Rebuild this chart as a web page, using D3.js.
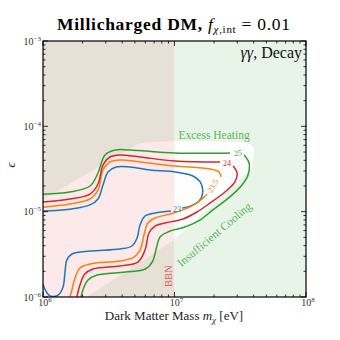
<!DOCTYPE html>
<html><head><meta charset="utf-8">
<script src="https://cdn.jsdelivr.net/npm/d3@7"></script>
<style>body{margin:0;background:#fff}svg{display:block}text{font-family:"Liberation Serif","DejaVu Serif",serif}</style>
</head><body><div id="c"></div>
<script>
// ---- data (mass in eV, epsilon) ----
const xTicks = [1e6, 1e7, 1e8];
const xTickExp = ["6", "7", "8"];
const yTicks = [1e-6, 1e-5, 1e-4, 1e-3];
const yTickExp = ["−6", "−5", "−4", "−3"];
const bbnMass = 1e7;
const allowedBand = [[1e6,1e-6],[2.16e6,1e-6],[9.9e6,4.66e-6],[3.88e7,3.25e-5],[4.03e7,5.28e-5],[3.75e7,6.55e-5],[9.9e6,6.73e-5],[5.47e6,6.38e-5],[1.04e6,1.45e-5],[1e6,1.40e-5]];

const c23Upper = [[1e6,1.02e-5],[1.6e6,1.07e-5],[2.28e6,1.2e-5],[2.62e6,1.41e-5],[2.86e6,2.05e-5],[3.12e6,2.92e-5],[3.59e6,3.34e-5],[4.59e6,3.34e-5],[6.52e6,3.08e-5],[1.01e7,2.92e-5],[1.38e7,2.62e-5],[1.57e7,2.23e-5],[1.64e7,1.7e-5],[1.54e7,1.33e-5],[1.31e7,1.16e-5],[1.14e7,1.1e-5]];
const c23Lower = [[9.4e6,1.02e-5],[7.11e6,9.64e-6],[5.97e6,8.89e-6],[5.47e6,6.98e-6],[5.19e6,4.91e-6],[4.75e6,3.96e-6],[3.85e6,3.65e-6],[2.28e6,3.46e-6],[1.66e6,3.19e-6],[1.52e6,2.72e-6],[1.47e6,1.96e-6],[1.42e6,1.31e-6],[1.3e6,1.05e-6],[1.13e6,1.03e-6],[1.04e6,1.21e-6],[1e6,1.42e-6]];
const c235Upper = [[1e6,1.13e-5],[1.6e6,1.23e-5],[2.28e6,1.41e-5],[2.62e6,1.79e-5],[2.86e6,3.08e-5],[3.23e6,3.82e-5],[3.85e6,4.03e-5],[5.47e6,3.82e-5],[1.01e7,3.43e-5],[1.86e7,3.16e-5],[2.18e7,2.92e-5],[2.26e7,2.55e-5]];
const c235Lower = [[1.77e7,1.61e-5],[1.48e7,1.26e-5],[1.16e7,1.05e-5],[9.25e6,9.4e-6],[7.11e6,8.43e-6],[6.28e6,7.36e-6],[5.86e6,5.32e-6],[5.47e6,3.55e-6],[4.92e6,2.94e-6],[3.85e6,2.64e-6],[2.28e6,2.44e-6],[1.91e6,2.19e-6],[1.75e6,1.67e-6],[1.66e6,1.21e-6],[1.6e6,1e-6]];
const c24Upper = [[1e6,1.3e-5],[1.6e6,1.41e-5],[2.28e6,1.61e-5],[2.62e6,2.11e-5],[2.86e6,3.52e-5],[3.23e6,4.37e-5],[3.85e6,4.62e-5],[5.47e6,4.37e-5],[1.01e7,3.93e-5],[2.22e7,3.82e-5]];
const c24Lower = [[2.79e7,3.43e-5],[2.99e7,2.84e-5],[2.88e7,2.23e-5],[2.42e7,1.7e-5],[1.86e7,1.26e-5],[1.48e7,9.91e-6],[1.16e7,8.2e-6],[8.47e6,7.36e-6],[7.11e6,6.79e-6],[6.4e6,5.62e-6],[5.97e6,3.55e-6],[5.27e6,2.57e-6],[3.85e6,2.31e-6],[2.4e6,2.13e-6],[2.08e6,1.86e-6],[1.91e6,1.38e-6],[1.81e6,1e-6]];
const c25Upper = [[1e6,1.6e-5],[1.6e6,1.7e-5],[2.28e6,2.0e-5],[2.62e6,2.84e-5],[2.96e6,4.62e-5],[3.53e6,5.28e-5],[4.59e6,5.28e-5],[1.01e7,4.87e-5],[2.64e7,4.87e-5]];
const c25Lower = [[3.38e7,4.62e-5],[3.69e7,3.72e-5],[3.62e7,2.69e-5],[3.26e7,2.05e-5],[2.64e7,1.49e-5],[1.96e7,1.05e-5],[1.56e7,7.98e-6],[1.2e7,6.61e-6],[9.25e6,5.93e-6],[7.76e6,5.05e-6],[7.3e6,3.8e-6],[6.8e6,2.6e-6],[6.0e6,2.13e-6],[4.21e6,1.96e-6],[2.58e6,1.81e-6],[2.2e6,1.58e-6],[2.01e6,1.21e-6],[1.95e6,1e-6]];

const contourLevels = ["23", "23.5", "24", "25"];
const contourColors = ["#1f77b4", "#ff7f0e", "#d62728", "#2ca02c"];
const contourLabelPos = [[1.045e7,1.07e-5],[1.96e7,2.0e-5],[2.51e7,3.72e-5],[3.04e7,4.87e-5]];
const contourLabelAngle = [0, -60, 0, -8];
const contourSegments = [[c23Upper,c23Lower],[c235Upper,c235Lower],[c24Upper,c24Lower],[c25Upper,c25Lower]];

// ---- drawing ----
const W = 340, H = 340;
const L = 43, R = 306, T = 41, B = 297;
const svg = d3.select("#c").append("svg").attr("width", W).attr("height", H);
const x = d3.scaleLog().domain([1e6, 1e8]).range([L, R]);
const y = d3.scaleLog().domain([1e-6, 1e-3]).range([B, T]);

const defs = svg.append("defs");
defs.append("clipPath").attr("id","clipL").append("rect").attr("x",L).attr("y",T).attr("width",x(bbnMass)-L).attr("height",B-T);
defs.append("clipPath").attr("id","clipR").append("rect").attr("x",x(bbnMass)).attr("y",T).attr("width",R-x(bbnMass)).attr("height",B-T);
defs.append("clipPath").attr("id","clipAll").append("rect").attr("x",L).attr("y",T).attr("width",R-L).attr("height",B-T);

svg.append("rect").attr("x",L).attr("y",T).attr("width",x(bbnMass)-L).attr("height",B-T).attr("fill","#e6e0d7");
svg.append("rect").attr("x",x(bbnMass)).attr("y",T).attr("width",R-x(bbnMass)).attr("height",B-T).attr("fill","#e9f4e9");

const area = d3.line().x(d=>x(d[0])).y(d=>y(d[1]));
svg.append("path").attr("d", area(allowedBand)+"Z").attr("fill","#fce9e9").attr("clip-path","url(#clipL)");
svg.append("path").attr("d", area(allowedBand)+"Z").attr("fill","#ffffff").attr("clip-path","url(#clipR)");

// region labels
svg.append("text").attr("x", x(2.0e7)).attr("y", y(7.1e-5)).attr("text-anchor","middle")
  .attr("font-size", 11.5).attr("fill","#5db55d").text("Excess Heating");
svg.append("text").attr("transform", `translate(${x(2.1e7)},${y(5.0e-6)}) rotate(-40)`).attr("text-anchor","middle")
  .attr("font-size", 11.5).attr("fill","#5db55d").text("Insufficient Cooling");
svg.append("text").attr("transform", `translate(${x(bbnMass)-3},${y(1.75e-6)}) rotate(-90)`).attr("text-anchor","middle")
  .attr("font-size", 10.5).attr("fill","#e05a5a").text("BBN");

// contours
const line = d3.line().x(d=>x(d[0])).y(d=>y(d[1])).curve(d3.curveCatmullRom.alpha(0.5));
const cg = svg.append("g").attr("clip-path","url(#clipAll)");
contourSegments.forEach((segs,i)=>{
  segs.forEach(s=>{
    cg.append("path").attr("d", line(s)).attr("fill","none").attr("stroke", contourColors[i]).attr("stroke-width",1.5);
  });
  const p = contourLabelPos[i];
  svg.append("text").attr("transform", `translate(${x(p[0])},${y(p[1])}) rotate(${contourLabelAngle[i]})`)
    .attr("text-anchor","middle").attr("dy","0.33em").attr("font-size",8).attr("fill", contourColors[i]).text(contourLevels[i]);
});

// frame
svg.append("rect").attr("x",L).attr("y",T).attr("width",R-L).attr("height",B-T).attr("fill","none").attr("stroke","#000").attr("stroke-width",1.2);

// ticks
const tg = svg.append("g").attr("stroke","#000").attr("stroke-width",0.8);
const minorX = [], minorY = [];
[1e6,1e7].forEach(d=>{ for(let k=2;k<10;k++) minorX.push(d*k); });
[1e-6,1e-5,1e-4].forEach(d=>{ for(let k=2;k<10;k++) minorY.push(d*k); });
function xt(v,len){ tg.append("line").attr("x1",x(v)).attr("x2",x(v)).attr("y1",B).attr("y2",B-len);
                    tg.append("line").attr("x1",x(v)).attr("x2",x(v)).attr("y1",T).attr("y2",T+len); }
function yt(v,len){ tg.append("line").attr("y1",y(v)).attr("y2",y(v)).attr("x1",L).attr("x2",L+len);
                    tg.append("line").attr("y1",y(v)).attr("y2",y(v)).attr("x1",R).attr("x2",R-len); }
xTicks.forEach(v=>xt(v,5)); minorX.forEach(v=>xt(v,2.5));
yTicks.forEach(v=>yt(v,5)); minorY.forEach(v=>yt(v,2.5));

// tick labels
xTicks.forEach((v,i)=>{
  const t = svg.append("text").attr("x", x(v)+2).attr("y", B+9).attr("text-anchor","middle").attr("font-size",10).attr("fill","#333");
  t.append("tspan").text("10");
  t.append("tspan").attr("dy",-4).attr("font-size",7).text(xTickExp[i]);
});
yTicks.forEach((v,i)=>{
  const t = svg.append("text").attr("x", L-2).attr("y", y(v)+3.5).attr("text-anchor","end").attr("font-size",10).attr("fill","#333");
  t.append("tspan").text("10");
  t.append("tspan").attr("dy",-4).attr("font-size",7).text(yTickExp[i]);
});

// axis labels
const xl = svg.append("text").attr("x",174).attr("y",320).attr("text-anchor","middle").attr("font-size",13).attr("fill","#222");
xl.append("tspan").text("Dark Matter Mass ");
xl.append("tspan").attr("font-style","italic").text("m");
xl.append("tspan").attr("font-size",9).attr("dy",2.5).attr("font-style","italic").text("χ");
xl.append("tspan").attr("dy",-2.5).text(" [eV]");
svg.append("text").attr("transform",`translate(15,${(T+B)/2-4}) rotate(-90)`).attr("text-anchor","middle")
  .attr("font-size",12).attr("font-style","italic").attr("fill","#222").text("ϵ");

// title
const tt = svg.append("text").attr("x",57).attr("y",30).attr("font-size",17.5).attr("fill","#000")
  .attr("textLength",233).attr("lengthAdjust","spacing");
tt.append("tspan").attr("font-weight","bold").text("Millicharged DM, ");
tt.append("tspan").attr("font-style","italic").text("f");
tt.append("tspan").attr("font-size",11).attr("dy",3).attr("font-style","italic").text("χ");
tt.append("tspan").attr("font-size",11).text(",int");
tt.append("tspan").attr("dy",-3).text(" = 0.01");

// top-right annotation
const an = svg.append("text").attr("x",302).attr("y",58).attr("text-anchor","end").attr("font-size",16).attr("fill","#111");
an.append("tspan").attr("font-style","italic").text("γγ");
an.append("tspan").text(", Decay");
</script></body></html>
